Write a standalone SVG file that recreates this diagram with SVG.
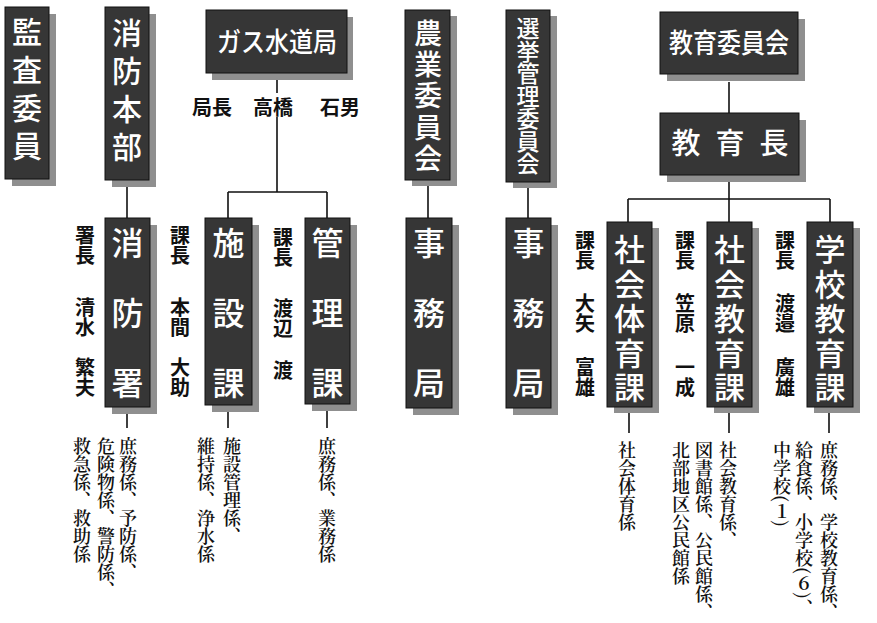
<svg xmlns="http://www.w3.org/2000/svg" width="877" height="623" viewBox="0 0 877 623">
<style>
.sh{fill:#8f8f8f}
.bx{fill:#363636;stroke:#111;stroke-width:1}
.ln{stroke:#111;stroke-width:1.6;fill:none}
.bt{font-family:"Noto Sans CJK JP",sans-serif;fill:#fff;font-weight:500}
.v{writing-mode:vertical-rl}
.lb{font-family:"Noto Sans CJK JP",sans-serif;font-weight:bold;font-size:20px;fill:#111;writing-mode:vertical-rl}
.ls{font-family:"Noto Serif CJK JP","Noto Sans CJK JP",serif;font-size:18px;font-weight:600;fill:#111;writing-mode:vertical-rl}
</style>
<rect width="877" height="623" fill="#fff"/>
<g id="connectors">
<path class="ln" d="M127 185V218"/>
<path class="ln" d="M277 80V93M277 117V192M228 192H327M228 192V218M327 192V218"/>
<path class="ln" d="M428 185V218"/>
<path class="ln" d="M528 188V218"/>
<path class="ln" d="M729 82V113"/>
<path class="ln" d="M729 182V199M628 199H830M628 199V222M729 199V222M830 199V222"/>
<path class="ln" d="M127 412V428M228 410V428M327 410V428"/>
<path class="ln" d="M629 412V433M729 412V433M829 412V433"/>
</g>
<g id="kansa">
<rect class="sh" x="12" y="14" width="44" height="172"/>
<rect class="bx" x="5" y="7" width="44" height="172"/>
<text class="bt v" x="27" y="17" font-size="30" letter-spacing="8">監査委員</text>
</g>
<g id="shobo-honbu">
<rect class="sh" x="112" y="14" width="44" height="173"/>
<rect class="bx" x="105" y="7" width="44" height="173"/>
<text class="bt v" x="127" y="18" font-size="30" letter-spacing="8">消防本部</text>
</g>
<g id="gas">
<rect class="sh" x="212" y="17" width="141" height="63"/>
<rect class="bx" x="206" y="10" width="141" height="63"/>
<text class="bt" x="277" y="52" font-size="27" text-anchor="middle" textLength="120" lengthAdjust="spacingAndGlyphs">ガス水道局</text>
</g>
<g id="gas-head">
<text class="lb" style="writing-mode:horizontal-tb" y="115"><tspan x="192">局長</tspan><tspan x="253">高橋</tspan><tspan x="320">石男</tspan></text>
</g>
<g id="nogyo">
<rect class="sh" x="412" y="16" width="45" height="170"/>
<rect class="bx" x="405" y="10" width="45" height="170"/>
<text class="bt v" x="428" y="19" font-size="28" letter-spacing="3.3">農業委員会</text>
</g>
<g id="senkyo">
<rect class="sh" x="513" y="16" width="44" height="172"/>
<rect class="bx" x="506" y="10" width="44" height="172"/>
<text class="bt v" x="528" y="17" font-size="23" letter-spacing="-0.5">選挙管理委員会</text>
</g>
<g id="kyoiku-iinkai">
<rect class="sh" x="667" y="19" width="138" height="62"/>
<rect class="bx" x="660" y="12" width="138" height="62"/>
<text class="bt" x="729" y="53" font-size="27" text-anchor="middle" textLength="120" lengthAdjust="spacingAndGlyphs">教育委員会</text>
</g>
<g id="kyoikucho">
<rect class="sh" x="667" y="120" width="139" height="62"/>
<rect class="bx" x="660" y="113" width="139" height="62"/>
<text class="bt" y="154" font-size="29" text-anchor="middle"><tspan x="686">教</tspan><tspan x="730">育</tspan><tspan x="774">長</tspan></text>
</g>
<g id="shobosho">
<rect class="sh" x="112" y="225" width="45" height="189"/>
<rect class="bx" x="105" y="218" width="45" height="189"/>
<text class="bt v" x="127.5" y="227" font-size="32" letter-spacing="38">消防署</text>
<text class="lb" x="85"><tspan y="225">署長</tspan><tspan y="297">清水</tspan><tspan y="357">繁夫</tspan></text>
<text class="ls" x="128" y="437">庶務係、予防係、</text>
<text class="ls" x="106" y="437">危険物係、警防係、</text>
<text class="ls" x="82" y="437">救急係、救助係</text>
</g>
<g id="shisetsu">
<rect class="sh" x="212" y="225" width="47" height="187"/>
<rect class="bx" x="205" y="218" width="47" height="187"/>
<text class="bt v" x="228.5" y="227" font-size="32" letter-spacing="38">施設課</text>
<text class="lb" x="180"><tspan y="225">課長</tspan><tspan y="297">本間</tspan><tspan y="357">大助</tspan></text>
<text class="ls" x="232" y="437">施設管理係、</text>
<text class="ls" x="206" y="437">維持係、浄水係</text>
</g>
<g id="kanri">
<rect class="sh" x="312" y="225" width="45" height="186"/>
<rect class="bx" x="305" y="218" width="45" height="186"/>
<text class="bt v" x="327.5" y="227" font-size="32" letter-spacing="38">管理課</text>
<text class="lb" x="283"><tspan y="227">課長</tspan><tspan y="298">渡辺</tspan><tspan y="360">渡</tspan></text>
<text class="ls" x="327" y="437">庶務係、業務係</text>
</g>
<g id="jimukyoku-1">
<rect class="sh" x="413" y="225" width="46" height="190"/>
<rect class="bx" x="406" y="218" width="46" height="190"/>
<text class="bt v" x="429" y="227" font-size="32" letter-spacing="38">事務局</text>
</g>
<g id="jimukyoku-2">
<rect class="sh" x="513" y="225" width="45" height="190"/>
<rect class="bx" x="506" y="218" width="45" height="190"/>
<text class="bt v" x="528.5" y="227" font-size="32" letter-spacing="38">事務局</text>
</g>
<g id="shakai-taiiku">
<rect class="sh" x="614" y="228" width="45" height="185"/>
<rect class="bx" x="607" y="222" width="45" height="185"/>
<text class="bt v" x="629.5" y="234" font-size="31" letter-spacing="3.5">社会体育課</text>
<text class="lb" x="585"><tspan y="230">課長</tspan><tspan y="293">大矢</tspan><tspan y="357">富雄</tspan></text>
<text class="ls" x="627" y="441">社会体育係</text>
</g>
<g id="shakai-kyoiku">
<rect class="sh" x="714" y="228" width="45" height="185"/>
<rect class="bx" x="707" y="222" width="45" height="185"/>
<text class="bt v" x="729.5" y="234" font-size="31" letter-spacing="3.5">社会教育課</text>
<text class="lb" x="685"><tspan y="230">課長</tspan><tspan y="293">笠原</tspan><tspan y="357">一成</tspan></text>
<text class="ls" x="728" y="441">社会教育係、</text>
<text class="ls" x="704" y="441">図書館係、公民館係、</text>
<text class="ls" x="681" y="441">北部地区公民館係</text>
</g>
<g id="gakko-kyoiku">
<rect class="sh" x="814" y="228" width="46" height="185"/>
<rect class="bx" x="807" y="222" width="46" height="185"/>
<text class="bt v" x="830" y="234" font-size="31" letter-spacing="3.5">学校教育課</text>
<text class="lb" x="785"><tspan y="230">課長</tspan><tspan y="293">渡邉</tspan><tspan y="357">廣雄</tspan></text>
<text class="ls" x="829" y="441">庶務係、学校教育係、</text>
<text class="ls" x="804" y="441">給食係、小学校(６)、</text>
<text class="ls" x="782" y="441">中学校(１)</text>
</g>
</svg>
